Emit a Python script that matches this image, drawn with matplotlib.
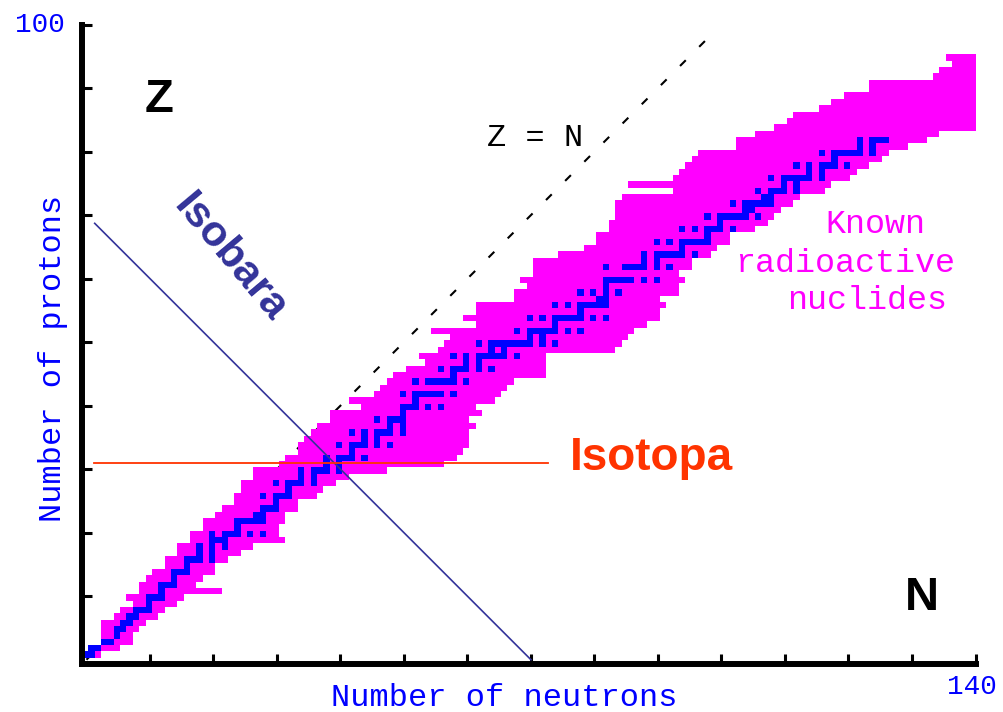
import numpy as np
import matplotlib.pyplot as plt

# Chart of nuclides: rows of known radioactive nuclides (magenta) and stable ones (blue)
Z_ROWS = np.arange(1, 96)
N_MIN = np.array([
    0, 1, 3, 3, 3, 3, 5, 6, 8, 7,
    9, 9, 10, 11, 13, 13, 15, 15, 17, 17,
    19, 19, 21, 22, 24, 24, 25, 25, 27, 27,
    31, 32, 34, 34, 35, 36, 37, 39, 39, 44,
    42, 46, 47, 48, 49, 51, 54, 53, 56, 57,
    58, 55, 62, 60, 62, 62, 68, 68, 70, 69,
    71, 71, 71, 75, 79, 81, 81, 83, 83, 84,
    84, 84, 85, 93, 86, 93, 94, 95, 96, 97,
    103, 103, 106, 109, 111, 112, 116, 118, 120, 124,
    124, 134, 135, 137, 136])
N_MAX = np.array([
    2, 5, 7, 7, 8, 9, 11, 12, 14, 15,
    21, 17, 18, 20, 20, 22, 24, 26, 31, 30,
    30, 31, 31, 33, 33, 36, 37, 39, 41, 47,
    56, 58, 59, 60, 60, 60, 61, 60, 62, 61,
    64, 65, 66, 67, 72, 72, 72, 72, 83, 84,
    85, 86, 88, 90, 90, 91, 90, 93, 93, 94,
    93, 95, 95, 98, 99, 101, 101, 105, 107, 108,
    109, 111, 112, 116, 117, 120, 121, 123, 125, 126,
    129, 132, 134, 140, 140, 140, 140, 140, 140, 140,
    140, 140, 140, 140, 140])

# stable neutron numbers, one list per Z = 1..82
STABLE_N = [
    [0, 1], [1, 2], [3, 4], [5], [5, 6], [6, 7], [7, 8], [8, 9, 10], [10], [10, 11, 12],
    [12], [12, 13, 14], [14], [14, 15, 16], [16], [16, 17, 18, 20], [18, 20], [18, 20, 22],
    [20, 21, 22], [20, 22, 23, 24, 26, 28], [24], [24, 25, 26, 27, 28], [27, 28],
    [28, 29, 30], [30], [28, 30, 31, 32], [32], [30, 32, 33, 34, 36], [34, 36],
    [34, 36, 37, 38, 40], [38, 40], [38, 40, 41, 42, 44], [42], [40, 42, 43, 44, 46, 48],
    [44, 46], [42, 44, 46, 47, 48, 50], [48, 50], [46, 48, 49, 50], [50],
    [50, 51, 52, 54, 56], [52], [50, 52, 53, 54, 55, 56, 58], [],
    [52, 54, 55, 56, 57, 58, 60], [58], [56, 58, 59, 60, 62, 64], [60, 62],
    [58, 60, 62, 63, 64, 65, 66, 68], [64, 66], [62, 64, 65, 66, 67, 68, 69, 70, 72, 74],
    [70, 72], [68, 70, 71, 72, 73, 74, 76, 78], [74], [70, 72, 74, 75, 76, 77, 78, 80, 82],
    [78], [74, 76, 78, 79, 80, 81, 82], [81, 82], [78, 80, 82, 84], [82],
    [82, 83, 84, 85, 86, 88, 90], [], [82, 85, 86, 87, 88, 90, 92], [88, 90],
    [88, 90, 91, 92, 93, 94, 96], [94], [90, 92, 94, 95, 96, 97, 98], [98],
    [94, 96, 98, 99, 100, 102], [100], [98, 100, 101, 102, 103, 104, 106], [104, 105],
    [102, 104, 105, 106, 107, 108], [107, 108], [106, 108, 109, 110, 112], [110, 112],
    [108, 110, 111, 112, 113, 114, 116], [114, 116], [112, 114, 116, 117, 118, 120], [118],
    [116, 118, 119, 120, 121, 122, 124], [122, 124], [122, 124, 125, 126]]

ISOBAR_A = 70            # N + Z = A
ISOBAR_N = (1.3, 70.0)
ISOTOPE_Z = 31
ISOTOPE_N = (1.2, 72.7)
DIAG_N = (0.0, 99.0)     # Z = N

MAGENTA = "#ff00ff"
BLUE = "#0000ff"
CELL_SHIFT = -0.2        # bitmap cells sit slightly below/left of the integer grid

fig = plt.figure(figsize=(10.04, 7.12), dpi=100)
ax = fig.add_axes([82.2 / 1004, 48 / 712, 893.3 / 1004, 639.5 / 712])
ax.set_xlim(-0.67, 140)
ax.set_ylim(-0.67, 100)

# Z = N guide, under the band
ax.plot(DIAG_N, DIAG_N, color="black", lw=1.5, linestyle=(0, (3.9, 9.1)), zorder=0.5)

ax.barh(Z_ROWS + CELL_SHIFT, N_MAX - N_MIN + 1, left=N_MIN - 0.5 + CELL_SHIFT, height=1.0,
        color=MAGENTA, linewidth=0, antialiased=False, zorder=1)

sz = np.concatenate([[z] * len(ns) for z, ns in enumerate(STABLE_N, start=1)])
sn = np.concatenate([ns for ns in STABLE_N if ns])
ax.barh(sz + CELL_SHIFT, 1.0, left=sn - 0.5 + CELL_SHIFT, height=1.0,
        color=BLUE, linewidth=0, antialiased=False, zorder=2)

xn = np.array(ISOBAR_N)
ax.plot(xn, ISOBAR_A - xn, color="#33339a", lw=1.2, zorder=3)
ax.plot(ISOTOPE_N, [ISOTOPE_Z, ISOTOPE_Z], color="#ff3300", lw=1.3, zorder=3)

# axes styling
for side in ("top", "right"):
    ax.spines[side].set_visible(False)
for side in ("left", "bottom"):
    ax.spines[side].set_linewidth(4.3)
ax.set_xticks(np.arange(10, 141, 10))
ax.set_yticks(np.arange(10, 101, 10))
ax.tick_params(direction="in", length=7, width=2.2, labelleft=False, labelbottom=False)

mono = "Liberation Mono"
ax.text(9.2, 86.3, "Z", fontsize=34, fontweight="bold", family="Liberation Sans", va="baseline")
ax.text(128.9, 7.8, "N", fontsize=34, fontweight="bold", family="Liberation Sans", va="baseline")
ax.text(63.0, 80.9, "Z = N", fontsize=23, family=mono, va="baseline")
ax.text(22.6, 63.4, "Isobara", fontsize=31, fontweight="bold", family="Liberation Sans",
        color="#333399", rotation=-50, ha="center", va="center", rotation_mode="anchor")
ax.text(76.1, 29.9, "Isotopa", fontsize=33, fontweight="bold", family="Liberation Sans",
        color="#ff3300", va="baseline")
ax.text(124.2, 67.2, "Known", fontsize=24, family=mono, color=MAGENTA, ha="center", va="baseline")
ax.text(119.4, 61.1, "radioactive", fontsize=24, family=mono, color=MAGENTA, ha="center", va="baseline")
ax.text(122.9, 55.2, "nuclides", fontsize=24, family=mono, color=MAGENTA, ha="center", va="baseline")

fig.text(504 / 1004, 6 / 712, "Number of neutrons", fontsize=23, family=mono, color=BLUE,
         ha="center", va="baseline")
fig.text(53 / 1004, 1 - 358 / 712, "Number of protons", fontsize=23, family=mono, color=BLUE,
         rotation=90, ha="center", va="center")
fig.text(40 / 1004, 1 - 25 / 712, "100", fontsize=20, family=mono, color=BLUE, ha="center", va="center")
fig.text(972 / 1004, 1 - 687 / 712, "140", fontsize=20, family=mono, color=BLUE, ha="center", va="center")

fig.savefig("out.png", dpi=100)
